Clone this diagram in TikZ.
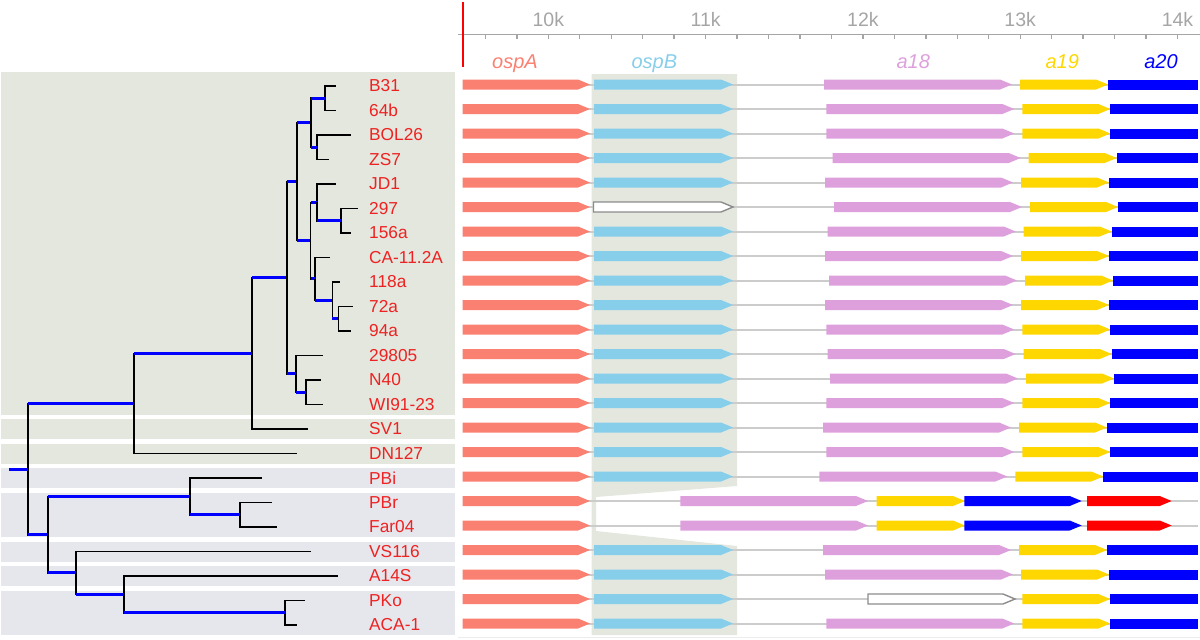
\documentclass[tikz,border=0pt]{standalone}
\usepackage{fontspec}
\setmainfont{Liberation Sans}
\usepackage{tikz}
\usetikzlibrary{calc}
\definecolor{bandgreen}{RGB}{227,231,222}
\definecolor{bandgray}{RGB}{230,231,236}
\definecolor{leafred}{RGB}{238,34,34}
\definecolor{treeblue}{RGB}{0,0,255}
\definecolor{ospAcol}{RGB}{250,128,114}
\definecolor{ospBcol}{RGB}{135,206,235}
\definecolor{cA18}{RGB}{221,160,221}
\definecolor{cA19}{RGB}{255,215,0}
\definecolor{cA20}{RGB}{0,0,255}
\definecolor{cExtra}{RGB}{255,0,0}
\definecolor{rulegray}{RGB}{165,165,165}
\definecolor{linegray}{RGB}{204,204,204}
% one gene as a flat arrow: style, start, end, row
\newcommand{\orf}[4]{%
  \path[#1] (#2,#4-5) -- (#3-12,#4-5) -- (#3,#4) -- (#3-12,#4+5) -- (#2,#4+5) -- cycle;}

\begin{document}
\begin{tikzpicture}[x=1pt,y=-1pt,
  branch/.style={line width=1.6,black},
  bluebranch/.style={line width=3,treeblue},
  leaflabel/.style={anchor=west,inner sep=0pt,text=leafred,font=\fontsize{17.3}{20}\selectfont},
  ticklabel/.style={anchor=base,inner sep=0pt,text=rulegray,font=\fontsize{19.5}{22}\selectfont},
  genelabel/.style={anchor=base,inner sep=0pt,font=\itshape\fontsize{20}{24}\selectfont},
  backbone/.style={line width=2,linegray},
  hollow/.style={draw=gray!90,line width=1.4,fill=white}]
  \useasboundingbox (0,0) rectangle (1200,640);

  % strain bands
  \foreach \ya/\yb/\col in {72/414.5/bandgreen,419/439/bandgreen,443.5/463.5/bandgreen,
      468/488/bandgray,492.5/537/bandgray,541.5/561.5/bandgray,566/586/bandgray,590.5/635/bandgray}
    \fill[\col] (1,\ya) rectangle (455,\yb);

  % leaves
  \foreach \n/\lbl/\x [count=\i from 0] in {B31/B31/336,64b/64b/336,BOL26/BOL26/351,ZS7/ZS7/329,
      JD1/JD1/336,297/297/358.3,156a/156a/351,CA/CA-11.2A/330,118a/118a/340,72a/72a/353.3,
      94a/94a/351,29805/29805/322.7,N40/N40/320.7,WI/WI91-23/322.7,SV1/SV1/308,DN127/DN127/297,
      PBi/PBi/262.3,PBr/PBr/271.7,Far04/Far04/276.7,VS116/VS116/310.7,A14S/A14S/338.3,
      PKo/PKo/305,ACA/ACA-1/296.7}{
    \coordinate (l\n) at (\x,{86+24.5*\i});
    \node[leaflabel] (t\n) at (369,{86+24.5*\i}) {\lbl};
  }

  % internal nodes
  \coordinate (stub) at (9,469.1);
  \coordinate (root) at (28,469.1);
  \coordinate (nA) at (134,403.45);
  \coordinate (nB) at (47.7,534.7);
  \coordinate (nC) at (252,353.4);
  \coordinate (nD) at (287,277.8);
  \coordinate (nE) at (297,181.7);
  \coordinate (nF) at (296,373.9);
  \coordinate (nG) at (311,122.75);
  \coordinate (nH) at (310.5,240.66);
  \coordinate (nI) at (325,98.25);
  \coordinate (nJ) at (317,147.25);
  \coordinate (nK) at (316.7,202.4);
  \coordinate (nL) at (315,278.9);
  \coordinate (nM) at (340.7,220.75);
  \coordinate (nN) at (332.3,300.4);
  \coordinate (nO) at (338.3,318.75);
  \coordinate (nP) at (306,392.25);
  \coordinate (nQ) at (190,496.4);
  \coordinate (nS) at (240,514.75);
  \coordinate (nR) at (76,572.9);
  \coordinate (nT) at (124,594.4);
  \coordinate (nU) at (285,612.75);

  \foreach \p/\c in {nI/lB31,nI/l64b,nJ/lBOL26,nJ/lZS7,nK/lJD1,nM/l297,nM/l156a,nL/lCA,
      nN/l118a,nO/l72a,nO/l94a,nF/l29805,nP/lN40,nP/lWI,nC/lSV1,nA/lDN127,nQ/lPBi,
      nS/lPBr,nS/lFar04,nR/lVS116,nT/lA14S,nU/lPKo,nU/lACA}
    \draw[branch] (\p) |- (\c);
  \foreach \p/\c in {root/nA,root/nB,nA/nC,nC/nD,nD/nE,nD/nF,nE/nG,nE/nH,nG/nI,nG/nJ,
      nH/nK,nH/nL,nK/nM,nL/nN,nN/nO,nF/nP,nB/nQ,nB/nR,nQ/nS,nR/nT,nT/nU}{
    \draw[branch] (\p) |- (\c);
    \draw[bluebranch] (\p |- \c) -- (\c);
  }
  \draw[bluebranch] (stub) -- (root);

  % ruler
  \draw[rulegray,line width=1.4] (458,34.3) -- (1200,34.3);
  \foreach \k in {9600,9800,...,14000}
    \draw[rulegray,line width=1.4] ({548.3+(\k-10000)*0.1573},34.3) -- ++(0,5);
  \foreach \k in {10,...,14}
    \node[ticklabel] (k\k) at ({548.3+(\k-10)*157.3},26.7) {\k k};
  \draw[cExtra,line width=2] (462.7,2) -- (462.7,67);

  \node[genelabel,text=ospAcol] (gospA) at (515,68) {ospA};
  \node[genelabel,text=ospBcol] (gospB) at (654.3,68) {ospB};
  \node[genelabel,text=cA18] (ga18) at (913.3,68) {a18};
  \node[genelabel,text=cA19] (ga19) at (1062.3,68) {a19};
  \node[genelabel,text=cA20] (ga20) at (1161,68) {a20};

  % ospB backdrop
  \fill[bandgreen] (591.5,74) -- (737,74) -- (737,486) -- (596,497) -- (596,531)
    -- (737,546) -- (737,635) -- (591.5,635) -- cycle;
  \draw[gray!15,line width=1.5] (458,637.5) -- (1200,637.5);

  \foreach \r in {0,...,22}{
    \pgfmathsetmacro\y{84.5+24.5*\r}
    \draw[backbone] (462.7,\y) -- (1198,\y);
    \orf{fill=ospAcol}{462.7}{590}{\y}
    \ifnum\r=17 \else\ifnum\r=18 \else
      \ifnum\r=5 \orf{hollow}{593.5}{733}{\y}\else\orf{fill=ospBcol}{594}{733}{\y}\fi
    \fi\fi
  }
  \foreach \r/\s in {0/0,1/2.3,2/2.3,3/8.7,4/1,5/10,6/3.7,7/1,8/5,9/1,10/2.3,11/3.7,12/6,
      13/2.3,14/-1,15/2.3,16/-4.7,19/-1,20/1,21/2.3,22/2.3}{
    \pgfmathsetmacro\y{84.5+24.5*\r}
    \pgfmathsetmacro\xa{824+(\s)}
    \pgfmathsetmacro\xb{1012+(\s)}
    \pgfmathsetmacro\xc{1020+(\s)}
    \pgfmathsetmacro\xd{1108+(\s)}
    \ifnum\r=21 \orf{hollow}{868}{1015}{\y}\else\orf{fill=cA18}{\xa}{\xb}{\y}\fi
    \orf{fill=cA19}{\xc}{\xd}{\y}
    \fill[cA20] (\xd,\y-5) rectangle (1198,\y+5);
  }
  \foreach \r in {17,18}{
    \pgfmathsetmacro\y{84.5+24.5*\r}
    \orf{fill=cA18}{680.4}{868}{\y}
    \orf{fill=cA19}{876.7}{965}{\y}
    \orf{fill=cA20}{964.3}{1081.7}{\y}
    \orf{fill=cExtra}{1087}{1171.7}{\y}
  }
\end{tikzpicture}
\end{document}
